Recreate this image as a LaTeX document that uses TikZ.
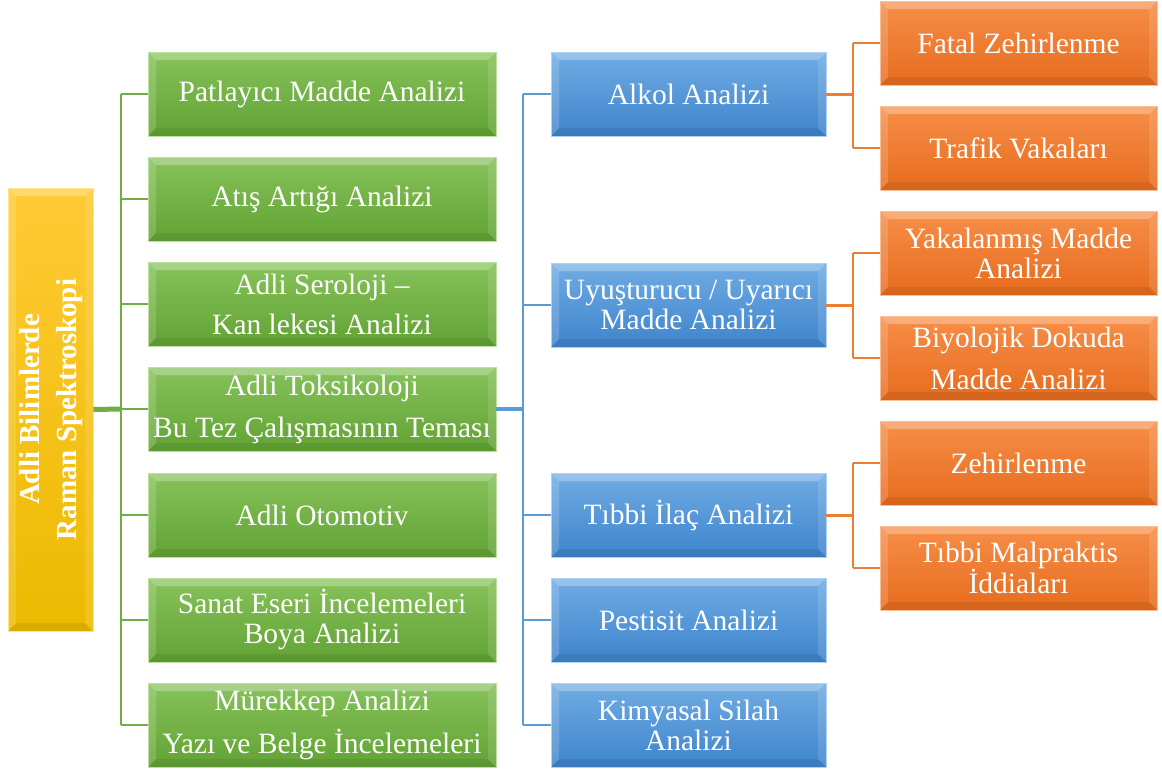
\documentclass[tikz,border=0pt]{standalone}
\usepackage{fontspec}
\usepackage{graphicx}
\setmainfont{Liberation Serif}
\definecolor{gTop}{RGB}{134,194,90}
\definecolor{gBot}{RGB}{98,163,52}
\definecolor{gEdge}{RGB}{190,225,160}
\definecolor{bTop}{RGB}{112,172,228}
\definecolor{bBot}{RGB}{62,132,204}
\definecolor{bEdge}{RGB}{175,210,242}
\definecolor{oTop}{RGB}{247,142,72}
\definecolor{oBot}{RGB}{230,108,30}
\definecolor{oEdge}{RGB}{250,190,150}
\definecolor{yTop}{RGB}{255,202,52}
\definecolor{yBot}{RGB}{236,186,0}
\definecolor{yEdge}{RGB}{255,228,140}
\definecolor{gLine}{RGB}{112,173,71}
\definecolor{bLine}{RGB}{91,155,213}
\definecolor{oLine}{RGB}{237,125,49}
\newcommand\mybevel{%
  \path (path picture bounding box.north west) coordinate (bvnw)
        (path picture bounding box.south east) coordinate (bvse);
  \fill[white,opacity=.28] (bvnw) -- (bvnw -| bvse) -- ([shift={(-8pt,-8pt)}]bvnw -| bvse) -- ([shift={(8pt,-8pt)}]bvnw) -- cycle;
  \fill[white,opacity=.16] (bvnw) -- ([shift={(8pt,-8pt)}]bvnw) -- ([shift={(8pt,8pt)}]bvnw |- bvse) -- (bvnw |- bvse) -- cycle;
  \fill[white,opacity=.12] (bvnw -| bvse) -- ([shift={(-8pt,-8pt)}]bvnw -| bvse) -- ([shift={(-8pt,8pt)}]bvse) -- (bvse) -- cycle;
  \fill[black,opacity=.07] (bvnw |- bvse) -- ([shift={(8pt,8pt)}]bvnw |- bvse) -- ([shift={(-8pt,8pt)}]bvse) -- (bvse) -- cycle;
}
\tikzset{
  box/.style={rectangle, inner sep=0pt, text=white, align=center,
    font=\fontsize{29.5}{30}\selectfont, line width=0.8pt, path picture={\mybevel}},
  gbox/.style={box, minimum width=348pt, minimum height=84pt, top color=gTop, bottom color=gBot, draw=gEdge},
  bbox/.style={box, minimum width=275pt, minimum height=84pt, top color=bTop, bottom color=bBot, draw=bEdge},
  obox/.style={box, minimum width=277pt, minimum height=84pt, top color=oTop, bottom color=oBot, draw=oEdge},
  ybox/.style={box, minimum width=85pt, minimum height=443pt, top color=yTop, bottom color=yBot, draw=yEdge,
    font=\fontsize{29}{37}\selectfont\bfseries},
  gl/.style={draw=gLine, line width=2.5pt},
  bl/.style={draw=bLine, line width=2.5pt},
  ol/.style={draw=oLine, line width=2.5pt},
}
\begin{document}
\begin{tikzpicture}[x=1pt,y=-1pt]
\useasboundingbox (0,0) rectangle (1162,771);
% root
\node[ybox] (root) at (50.5,409.5) {\rotatebox{90}{\begin{tabular}{@{}c@{}}Adli Bilimlerde\\Raman Spektroskopi\end{tabular}}};
% green
\node[gbox] (g1) at (322,94) {Patlayıcı Madde Analizi};
\node[gbox] (g2) at (322,199) {Atış Artığı Analizi};
\node[gbox] (g3) at (322,304) {Adli Seroloji –\\[10pt]Kan lekesi Analizi};
\node[gbox] (g4) at (322,409) {Adli Toksikoloji\\[12pt]Bu Tez Çalışmasının Teması};
\node[gbox] (g5) at (322,515) {Adli Otomotiv};
\node[gbox] (g6) at (322,620) {Sanat Eseri İncelemeleri\\Boya Analizi};
\node[gbox] (g7) at (322,725) {Mürekkep Analizi\\[12pt]Yazı ve Belge İncelemeleri};
% blue
\node[bbox] (b1) at (688.5,94) {Alkol Analizi};
\node[bbox] (b2) at (688.5,305) {Uyuşturucu / Uyarıcı\\Madde Analizi};
\node[bbox] (b3) at (688.5,515) {Tıbbi İlaç Analizi};
\node[bbox] (b4) at (688.5,620) {Pestisit Analizi};
\node[bbox] (b5) at (688.5,725) {Kimyasal Silah\\Analizi};
% orange
\node[obox] (o1) at (1018.5,43) {Fatal Zehirlenme};
\node[obox] (o2) at (1018.5,148) {Trafik Vakaları};
\node[obox] (o3) at (1018.5,253) {Yakalanmış Madde\\Analizi};
\node[obox] (o4) at (1018.5,358) {Biyolojik Dokuda\\[12pt]Madde Analizi};
\node[obox] (o5) at (1018.5,463) {Zehirlenme};
\node[obox] (o6) at (1018.5,568) {Tıbbi Malpraktis\\İddiaları};
% trunk coordinates
\coordinate (gt) at (121,409);
\coordinate (bt) at (523,409);
\coordinate (ot1) at (853,94);
\coordinate (ot2) at (853,305);
\coordinate (ot3) at (853,515);
% green connectors
\draw[gl, line width=5pt] (root.east) -- (gt);
\draw[gl] (gt |- g1.west) -- (gt |- g7.west);
\foreach \n in {g1,g2,g3,g4,g5,g6,g7} \draw[gl] (gt |- \n.west) -- (\n.west);
% blue connectors
\draw[bl, line width=4pt] (g4.east) -- (bt);
\draw[bl] (bt |- b1.west) -- (bt |- b5.west);
\foreach \n in {b1,b2,b3,b4,b5} \draw[bl] (bt |- \n.west) -- (\n.west);
% orange connectors
\draw[ol, line width=3pt] (b1.east) -- (ot1);
\draw[ol] (ot1 |- o1.west) -- (ot1 |- o2.west);
\draw[ol] (ot1 |- o1.west) -- (o1.west);
\draw[ol] (ot1 |- o2.west) -- (o2.west);
\draw[ol, line width=3pt] (b2.east) -- (ot2);
\draw[ol] (ot2 |- o3.west) -- (ot2 |- o4.west);
\draw[ol] (ot2 |- o3.west) -- (o3.west);
\draw[ol] (ot2 |- o4.west) -- (o4.west);
\draw[ol, line width=3pt] (b3.east) -- (ot3);
\draw[ol] (ot3 |- o5.west) -- (ot3 |- o6.west);
\draw[ol] (ot3 |- o5.west) -- (o5.west);
\draw[ol] (ot3 |- o6.west) -- (o6.west);
\end{tikzpicture}
\end{document}
